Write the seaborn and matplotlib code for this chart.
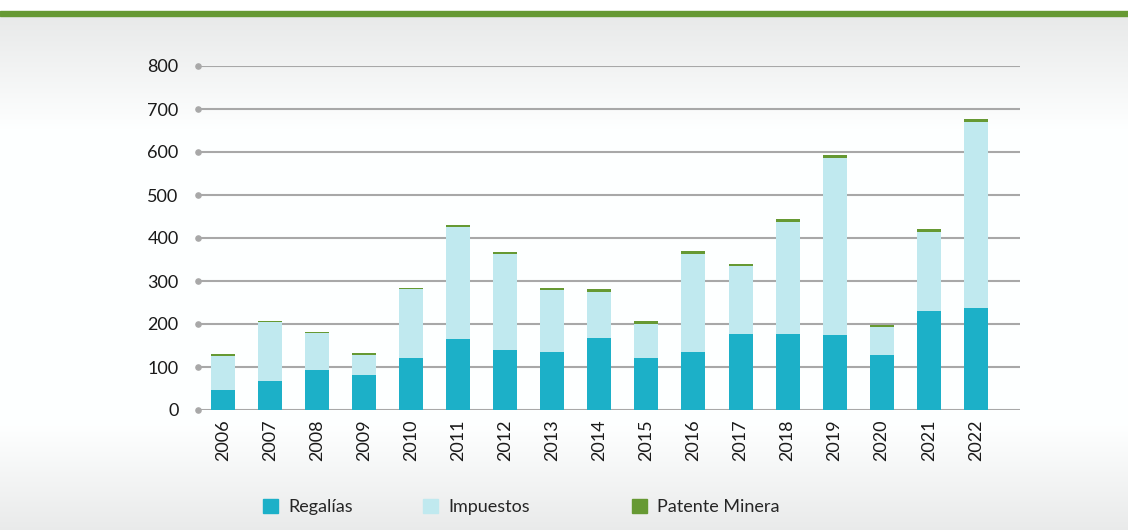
import matplotlib
matplotlib.use("Agg")
import matplotlib.pyplot as plt
import numpy as np
import pandas as pd
import seaborn as sns
from matplotlib.patches import Rectangle

# ── data (millions) ─────────────────────────────────────────────────────
years = ["2006", "2007", "2008", "2009", "2010", "2011", "2012", "2013", "2014",
         "2015", "2016", "2017", "2018", "2019", "2020", "2021", "2022"]
regalias = [46, 67, 93, 81, 121, 165, 140, 135, 167, 121, 135, 177, 177, 174, 128, 230, 237]
impuestos = [80, 138, 86, 47, 160, 261, 223, 144, 107, 79, 228, 158, 260, 412, 65, 184, 433]
patente = [4, 2, 2, 4, 3, 4, 4, 5, 7, 6, 7, 5, 7, 7, 5, 7, 7]

C_REG = "#1cb0c8"
C_IMP = "#c0e9ef"
C_PAT = "#669933"
C_GRID = "#a8a8a8"

df = pd.DataFrame({"year": years, "reg": regalias, "imp": impuestos, "pat": patente})
df["reg_imp"] = df["reg"] + df["imp"]
df["total"] = df["reg_imp"] + df["pat"]

sns.set_theme(style="white")
plt.rcParams["font.family"] = ["Lato", "DejaVu Sans"]

W, H = 1128, 530
fig = plt.figure(figsize=(W / 100, H / 100), dpi=100)
fig.patch.set_facecolor("white")

# background gradient below the green band
bg = fig.add_axes([0, 0, 1, 1 - 16 / H])
bg.set_axis_off()
rows = np.linspace(0, 1, 514)
shade = np.ones_like(rows)
top = rows < 0.22
shade[top] = 0.915 + (1 - 0.915) * (rows[top] / 0.22)
bot = rows > 0.80
shade[bot] = 1 - (1 - 0.92) * ((rows[bot] - 0.80) / 0.20)
grad = np.repeat(shade[:, None], 2, axis=1)
rgb = np.dstack([grad * 0.995, grad, grad])
bg.imshow(np.clip(rgb, 0, 1), aspect="auto", extent=[0, 1, 0, 1], interpolation="bilinear")
bg.set_zorder(-5)

fig.patches.append(Rectangle((0, 1 - 16 / H), 1, 5 / H, transform=fig.transFigure,
                             color=C_PAT, zorder=2))

ax = fig.add_axes([198 / W, 1 - 410 / H, (1020 - 198) / W, (410 - 66) / H])
ax.set_facecolor("none")

# stacked bars: draw cumulative totals back to front
bw = 0.51
bar_kw = dict(order=years, width=bw, saturation=1, ax=ax, zorder=3,
              linewidth=0, edgecolor="none")
sns.barplot(data=df, x="year", y="total", color=C_PAT, **bar_kw)
sns.barplot(data=df, x="year", y="reg_imp", color=C_IMP, **bar_kw)
sns.barplot(data=df, x="year", y="reg", color=C_REG, **bar_kw)

ax.set_ylim(0, 800)
ax.set_xlim(-0.53, 16.94)
yt = np.arange(0, 801, 100)
ax.set_yticks(yt)
ax.set_yticklabels([str(v) for v in yt], fontsize=13, color="#1a1a1a")
ax.set_xticks(range(len(years)))
ax.set_xticklabels(years, rotation=90, fontsize=13, color="#1a1a1a")
ax.tick_params(axis="y", length=0, pad=14)
ax.tick_params(axis="x", length=0, pad=7)
ax.set_xlabel("")
ax.set_ylabel("")
for s in ax.spines.values():
    s.set_visible(False)
ax.yaxis.grid(True, color=C_GRID, lw=1.5)
ax.set_axisbelow(True)
ax.scatter([-0.53] * len(yt), yt, s=14, color=C_GRID, clip_on=False, zorder=4)

# legend entries
labels = ["Regalías", "Impuestos", "Patente Minera"]
colors = [C_REG, C_IMP, C_PAT]
xpos = [263, 423, 632]
for lab, col, x in zip(labels, colors, xpos):
    h = Rectangle((0, 0), 1, 1, color=col)
    fig.legend([h], [lab], loc="center left", bbox_to_anchor=(x / W, 1 - 507 / H),
               frameon=False, fontsize=13, handlelength=0.85, handleheight=0.85,
               handletextpad=0.55, borderaxespad=0, borderpad=0)

fig.savefig("out.png", dpi=100)
